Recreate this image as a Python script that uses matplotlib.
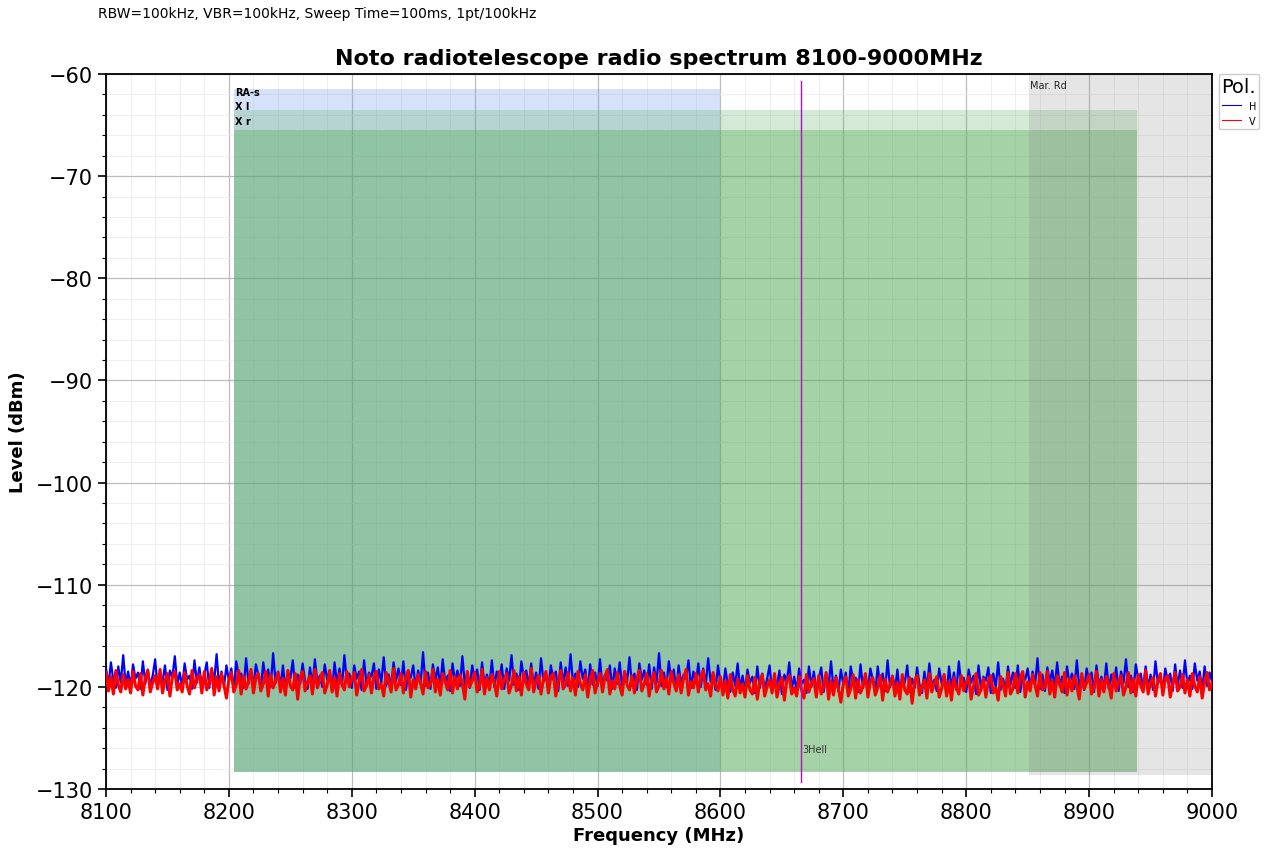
import numpy as np
import matplotlib
matplotlib.use("Agg")
import matplotlib.pyplot as plt
from matplotlib.ticker import MultipleLocator

# ---------------- data ----------------
freq_start, freq_stop, freq_step = 8100, 9000, 2

level_H = [
    -118.2,-119.9,-117.6,-119.4,-120.1,-118.0,-119.6,-116.9,-119.8,-118.5,
    -120.0,-117.8,-119.2,-118.6,-120.2,-117.5,-119.7,-118.3,-119.9,-118.9,
    -117.3,-120.1,-118.7,-119.5,-117.9,-120.3,-118.4,-119.1,-117.0,-119.8,
    -118.6,-120.0,-117.7,-119.3,-118.9,-120.2,-117.4,-119.6,-118.1,-119.9,
    -118.8,-117.6,-120.1,-118.3,-119.5,-116.8,-119.9,-118.5,-120.0,-117.9,
    -119.4,-118.2,-120.3,-117.5,-119.0,-118.7,-120.1,-117.2,-119.7,-118.4,
    -119.9,-117.8,-118.9,-120.2,-117.6,-119.5,-118.3,-120.0,-116.7,-119.6,
    -118.5,-119.9,-117.9,-120.3,-118.6,-119.2,-117.4,-120.1,-118.8,-119.7,
    -117.7,-119.4,-120.2,-118.1,-119.8,-117.3,-119.6,-118.9,-120.0,-117.8,
    -119.3,-118.4,-120.4,-117.6,-119.7,-118.2,-119.9,-116.9,-119.5,-118.7,
    -120.1,-117.9,-119.2,-118.5,-120.3,-117.4,-119.8,-118.6,-119.0,-117.7,
    -120.2,-118.3,-119.6,-117.1,-119.9,-118.8,-120.0,-117.6,-119.4,-118.2,
    -119.8,-117.5,-120.3,-118.7,-119.1,-117.9,-120.1,-118.4,-119.7,-116.6,
    -119.9,-118.6,-120.2,-117.8,-119.3,-118.1,-120.0,-117.3,-119.6,-118.9,
    -120.4,-117.7,-119.5,-118.4,-119.9,-117.0,-119.8,-118.6,-120.1,-117.9,
    -119.2,-118.3,-120.3,-117.6,-119.7,-118.8,-119.9,-117.4,-120.0,-118.5,
    -119.6,-117.8,-120.2,-118.2,-119.4,-116.9,-119.8,-118.7,-120.3,-117.5,
    -119.1,-118.4,-120.0,-117.7,-119.9,-118.6,-120.2,-117.2,-119.5,-118.9,
    -120.1,-117.9,-119.3,-118.5,-120.4,-117.6,-119.7,-118.1,-119.9,-116.8,
    -119.6,-118.7,-120.0,-117.5,-119.2,-118.3,-120.3,-117.8,-119.8,-118.6,
    -119.9,-117.3,-120.1,-118.8,-119.4,-117.9,-120.2,-118.2,-119.7,-117.6,
    -120.0,-118.5,-119.5,-117.1,-119.9,-118.7,-120.3,-117.7,-119.3,-118.4,
    -119.8,-117.8,-120.2,-118.1,-119.6,-116.7,-119.9,-118.6,-120.0,-117.5,
    -119.4,-118.3,-120.4,-117.9,-119.7,-118.8,-119.2,-117.4,-120.1,-118.5,
    -119.6,-117.7,-120.0,-118.2,-119.9,-117.2,-119.5,-118.7,-120.3,-117.9,
    -119.6,-120.3,-118.2,-119.8,-120.5,-118.6,-119.9,-117.7,-120.2,-118.9,
    -120.4,-118.3,-119.6,-119.0,-120.6,-118.0,-120.1,-118.7,-120.3,-119.2,
    -117.9,-120.5,-119.1,-119.9,-118.4,-120.7,-118.8,-119.5,-117.6,-120.2,
    -119.0,-120.4,-118.2,-119.7,-119.3,-120.6,-118.0,-120.0,-118.5,-120.3,
    -119.2,-118.1,-120.5,-118.7,-119.9,-117.5,-120.3,-118.9,-120.4,-118.3,
    -119.8,-118.6,-120.7,-118.0,-119.4,-119.1,-120.5,-117.8,-120.1,-118.8,
    -120.3,-118.2,-119.3,-120.6,-118.0,-119.9,-118.7,-120.4,-117.4,-120.0,
    -118.9,-120.3,-118.3,-120.7,-119.0,-119.6,-117.9,-120.5,-119.2,-120.1,
    -118.1,-119.8,-120.6,-118.5,-120.2,-117.7,-120.0,-119.3,-120.4,-118.2,
    -119.7,-118.8,-120.8,-118.0,-120.1,-118.6,-120.3,-117.5,-119.9,-119.1,
    -120.5,-118.3,-119.6,-118.9,-120.7,-117.9,-120.2,-119.0,-119.4,-118.1,
    -120.6,-118.7,-120.0,-117.6,-120.3,-119.2,-120.4,-118.0,-119.8,-118.6,
    -120.1,-117.9,-120.5,-118.9,-119.3,-118.2,-120.2,-118.5,-119.8,-117.2,
    -120.2,-118.8,-120.4,-118.1,-119.5,-118.4,-120.1,-117.6,-119.9,-119.0,
    -120.6,-118.0,-119.7,-118.7,-120.2,-117.4,-120.1,-118.9,-120.3,-118.2,
    -119.4,-118.6,-120.5,-117.9,-119.9,-119.0,-120.1,-117.7,-120.2,-118.8,
    -119.8,-118.1,-120.4,-118.5,-119.6,-117.3,-120.0,-118.9,-120.5,-117.8,
    -119.3,-118.7,-120.2,-118.0,-120.1,-118.8,-120.3,-117.5,-119.7,-119.1,
    -120.2,-118.2,-119.5,-118.7,-120.4,-117.8,-119.9,-118.4,-120.1,-117.4,
    -119.8,-118.9,-120.2,-117.7,-119.4,-118.5,-120.3,-118.0,-119.9,-118.6,
    -119.5,
]

level_V = [
    -118.6,-120.4,-119.0,-120.7,-118.4,-119.8,-120.5,-118.8,-120.2,-119.3,
    -120.6,-118.5,-119.9,-120.3,-118.7,-120.8,-119.1,-118.4,-120.5,-119.6,
    -118.9,-120.2,-118.3,-120.6,-119.4,-118.7,-120.9,-119.0,-118.5,-120.3,
    -119.7,-120.5,-118.6,-119.9,-120.7,-118.4,-120.1,-119.2,-118.8,-120.6,
    -118.5,-120.3,-119.6,-118.2,-120.8,-119.0,-120.4,-118.7,-119.8,-121.1,
    -119.3,-118.6,-120.5,-119.8,-118.4,-120.7,-118.9,-120.2,-119.5,-118.3,
    -120.6,-119.1,-118.7,-120.4,-119.7,-118.5,-120.9,-118.8,-120.1,-119.4,
    -118.6,-120.5,-119.2,-120.8,-118.4,-119.9,-120.3,-118.7,-121.2,-119.0,
    -118.5,-120.4,-119.6,-118.9,-120.7,-118.3,-120.1,-119.3,-118.6,-120.6,
    -119.8,-118.4,-120.5,-119.1,-120.9,-118.7,-119.7,-120.3,-118.5,-120.0,
    -119.2,-118.6,-120.8,-119.5,-118.3,-120.4,-119.9,-118.8,-120.6,-119.0,
    -118.5,-120.2,-119.7,-120.9,-118.6,-119.4,-120.5,-118.2,-120.3,-119.8,
    -118.7,-120.6,-119.1,-118.4,-121.0,-119.3,-120.2,-118.8,-119.6,-120.7,
    -118.5,-120.1,-119.8,-118.3,-120.5,-119.2,-120.8,-118.7,-119.5,-120.3,
    -118.4,-120.6,-119.0,-120.2,-118.8,-119.7,-121.2,-118.5,-120.0,-119.4,
    -118.6,-120.5,-119.9,-118.3,-120.7,-119.1,-120.3,-118.8,-119.6,-120.9,
    -118.5,-120.2,-119.3,-118.7,-120.6,-119.8,-118.4,-120.4,-119.0,-120.8,
    -118.6,-119.7,-120.3,-118.2,-120.5,-119.4,-118.9,-120.7,-119.2,-118.5,
    -120.6,-119.0,-118.7,-120.9,-119.5,-118.4,-120.2,-119.8,-118.6,-120.4,
    -119.1,-120.8,-118.5,-119.7,-120.3,-118.8,-121.0,-119.3,-118.4,-120.6,
    -119.6,-118.7,-120.5,-119.0,-118.3,-120.7,-119.4,-120.2,-118.6,-119.9,
    -120.8,-118.5,-119.8,-120.3,-118.9,-120.6,-119.2,-118.4,-120.4,-119.7,
    -118.7,-120.9,-119.3,-118.6,-120.5,-119.9,-118.4,-120.2,-119.1,-120.7,
    -118.5,-119.6,-120.4,-118.8,-120.6,-119.2,-118.3,-120.8,-119.5,-120.1,
    -118.7,-120.5,-119.0,-118.4,-120.3,-119.7,-120.9,-118.6,-119.8,-120.4,
    -119.0,-120.8,-119.4,-121.1,-118.8,-120.2,-120.9,-119.2,-120.6,-119.7,
    -121.0,-118.9,-120.3,-120.7,-119.1,-121.2,-119.5,-118.8,-120.9,-120.0,
    -119.3,-120.6,-118.7,-121.0,-119.8,-119.1,-121.3,-119.4,-118.9,-120.7,
    -120.1,-120.9,-119.0,-120.3,-121.1,-118.8,-120.5,-119.6,-119.2,-121.0,
    -118.9,-120.7,-120.0,-118.6,-121.2,-119.4,-120.8,-119.1,-120.2,-121.5,
    -119.7,-119.0,-120.9,-120.2,-118.8,-121.1,-119.3,-120.6,-119.9,-118.7,
    -121.0,-119.5,-119.1,-120.8,-120.1,-118.9,-121.3,-119.2,-120.5,-119.8,
    -119.0,-120.9,-119.6,-121.2,-118.8,-120.3,-120.7,-119.1,-121.6,-119.4,
    -118.9,-120.8,-120.0,-119.3,-121.1,-118.7,-120.5,-119.7,-119.0,-121.0,
    -120.2,-118.8,-120.9,-119.5,-121.3,-119.1,-120.1,-120.7,-118.9,-120.4,
    -119.6,-119.0,-121.2,-119.9,-118.7,-120.8,-120.3,-119.2,-121.0,-119.4,
    -118.9,-120.6,-120.1,-121.3,-119.0,-119.8,-120.9,-118.6,-120.7,-120.2,
    -118.7,-120.6,-119.1,-118.5,-121.0,-119.5,-120.4,-118.8,-119.8,-120.9,
    -118.6,-120.3,-120.0,-118.5,-120.7,-119.4,-121.0,-118.9,-119.7,-120.5,
    -118.6,-120.8,-119.2,-120.4,-118.9,-119.9,-121.2,-118.7,-120.2,-119.6,
    -118.8,-120.7,-120.1,-118.5,-120.9,-119.3,-120.5,-119.0,-119.8,-121.1,
    -118.7,-120.4,-119.5,-118.9,-120.8,-120.0,-118.6,-120.6,-119.2,-120.9,
    -118.8,-119.9,-120.5,-118.4,-120.7,-119.6,-119.1,-120.9,-119.4,-118.7,
    -120.8,-119.2,-118.9,-121.0,-119.7,-118.6,-120.4,-120.0,-118.8,-120.6,
    -119.3,-120.9,-118.7,-119.9,-120.5,-119.0,-121.1,-119.5,-118.6,-120.3,
    -119.6,
]

# allocation bands: name, f_lo, f_hi, top level, bottom level, label level
band_names = ["RA-s", "X l", "X r"]
band_lo = [8204, 8204, 8204]
band_hi = [8600, 8939, 8939]
band_top = [-61.5, -63.5, -65.5]
band_bottom = [-128.3, -128.3, -128.3]
band_label_level = [-61.76, -63.15, -64.6]

gray_name = "Mar. Rd"
gray_lo, gray_hi = 8851, 9000
gray_top, gray_bottom = -60.0, -128.6
gray_label_level = -61.1

marker_name = "3Hell"
marker_freq = 8665.5
marker_top, marker_bottom = -60.7, -129.3
marker_label_level = -126.1

x_ticks = [8100, 8200, 8300, 8400, 8500, 8600, 8700, 8800, 8900, 9000]
y_ticks = [-130, -120, -110, -100, -90, -80, -70, -60]

# ---------------- plot ----------------
freqs = np.arange(freq_start, freq_stop + 1, freq_step)

fig = plt.figure(figsize=(12.71, 8.54), dpi=100)
ax = fig.add_axes([106/1271, 64/854, 1106/1271, 715/854])

band_colors = [(100/255, 149/255, 237/255, 0.27),
               (80/255, 170/255, 85/255, 0.24),
               (80/255, 170/255, 85/255, 0.36)]
for name, lo, hi, top, bot, col, ly in zip(band_names, band_lo, band_hi, band_top,
                                           band_bottom, band_colors, band_label_level):
    ax.fill_between([lo, hi], [bot, bot], [top, top], color=col, linewidth=0, zorder=1)
    ax.text(lo + 1, ly, name, fontsize=7, fontweight="bold", va="center", ha="left", zorder=5)

ax.fill_between([gray_lo, gray_hi], [gray_bottom, gray_bottom], [gray_top, gray_top],
                color=(0.5, 0.5, 0.5, 0.2), linewidth=0, zorder=1.5)
ax.text(gray_lo + 1, gray_label_level, gray_name, fontsize=7, va="center", ha="left", zorder=5,
        color="#222222")

ax.plot([marker_freq, marker_freq], [marker_bottom, marker_top], color="#b010c0", lw=1.0, zorder=4)
ax.text(marker_freq + 1, marker_label_level, marker_name, fontsize=7, va="center", ha="left",
        color="#333333", zorder=5)

ax.plot(freqs, level_H, color="#0000ff", lw=1.6, label="H", zorder=3)
ax.plot(freqs, level_V, color="#ff0000", lw=2.2, label="V", zorder=3.1)

ax.set_xlim(8100, 9000)
ax.set_ylim(-130, -60)
ax.set_xticks(x_ticks)
ax.set_yticks(y_ticks)
ax.xaxis.set_minor_locator(MultipleLocator(20))
ax.yaxis.set_minor_locator(MultipleLocator(2))
ax.grid(which="major", color="#bdbdbd", lw=0.9, zorder=0)
ax.grid(which="minor", color="#ececec", lw=0.6, zorder=0)
ax.set_axisbelow(True)
ax.tick_params(axis="both", which="major", labelsize=15, length=6, width=1.2)
ax.tick_params(axis="both", which="minor", length=3, width=0.8)
for sp in ax.spines.values():
    sp.set_linewidth(1.3)

ax.set_xlabel("Frequency (MHz)", fontsize=13, fontweight="bold", labelpad=3)
ax.set_ylabel("Level (dBm)", fontsize=13, fontweight="bold", labelpad=6)
ax.set_title("Noto radiotelescope radio spectrum 8100-9000MHz", fontsize=16, fontweight="bold", pad=7)
fig.text(98/1271, 1 - 14/854, "RBW=100kHz, VBR=100kHz, Sweep Time=100ms, 1pt/100kHz",
         fontsize=10, ha="left", va="center")

leg = ax.legend(title="Pol.", loc="upper left", bbox_to_anchor=(1.006, 1.0), fontsize=7,
                title_fontsize=14, handlelength=2, borderaxespad=0.0, framealpha=1,
                borderpad=0.3)
for l in leg.get_lines():
    l.set_linewidth(0.8)

fig.savefig("out.png", dpi=100)
